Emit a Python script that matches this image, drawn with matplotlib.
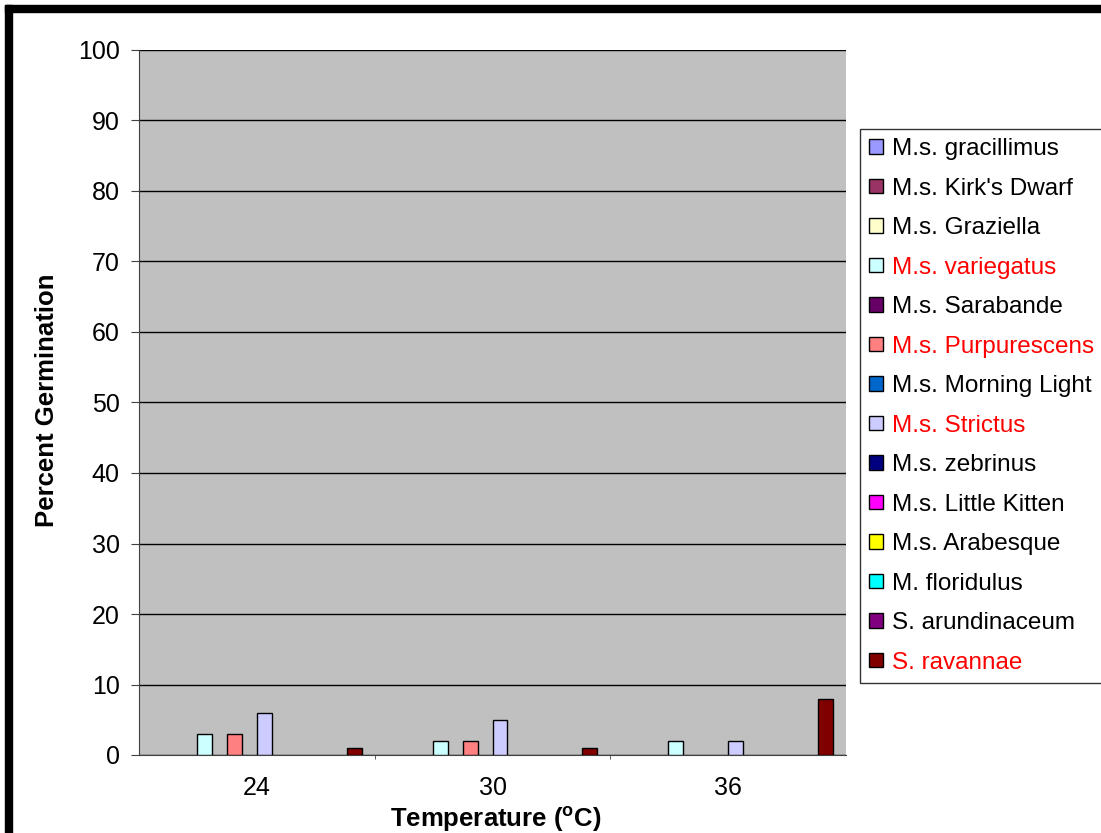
import numpy as np
import matplotlib
matplotlib.use("Agg")
import matplotlib.pyplot as plt
from matplotlib.patches import Patch, Rectangle

plt.rcParams['font.family'] = ['Liberation Sans', 'DejaVu Sans']

temps = ['24', '30', '36']
species = ['M.s. gracillimus', "M.s. Kirk's Dwarf", 'M.s. Graziella', 'M.s. variegatus',
           'M.s. Sarabande', 'M.s. Purpurescens', 'M.s. Morning Light', 'M.s. Strictus',
           'M.s. zebrinus', 'M.s. Little Kitten', 'M.s. Arabesque', 'M. floridulus',
           'S. arundinaceum', 'S. ravannae']
gracillimus = [0, 0, 0]
kirks_dwarf = [0, 0, 0]
graziella = [0, 0, 0]
variegatus = [3, 2, 2]
sarabande = [0, 0, 0]
purpurescens = [3, 2, 0]
morning_light = [0, 0, 0]
strictus = [6, 5, 2]
zebrinus = [0, 0, 0]
little_kitten = [0, 0, 0]
arabesque = [0, 0, 0]
floridulus = [0, 0, 0]
arundinaceum = [0, 0, 0]
ravannae = [1, 1, 8]
values = [gracillimus, kirks_dwarf, graziella, variegatus, sarabande, purpurescens,
          morning_light, strictus, zebrinus, little_kitten, arabesque, floridulus,
          arundinaceum, ravannae]
colors = ['#9999FF', '#993366', '#FFFFCC', '#CCFFFF', '#660066', '#FF8080', '#0066CC',
          '#CCCCFF', '#000080', '#FF00FF', '#FFFF00', '#00FFFF', '#800080', '#800000']
red_labels = ['M.s. variegatus', 'M.s. Purpurescens', 'M.s. Strictus', 'S. ravannae']

W, H = 1101, 833
fig = plt.figure(figsize=(W / 100, H / 100), dpi=100)
ax = fig.add_axes([139 / W, 1 - 755 / H, (846 - 139) / W, (755 - 50) / H])
ax.set_facecolor('#C0C0C0')

x = np.arange(len(temps))
bw = 15 / 236
for i, (vals, c) in enumerate(zip(values, colors)):
    v = np.array(vals, dtype=float)
    keep = v > 0
    ax.bar(x[keep] + (i - 6.5) * bw, v[keep], width=bw, color=c, edgecolor='black', linewidth=1, zorder=3)

ax.set_xlim(-0.5, 2.5)
ax.set_ylim(0, 100)
ax.set_yticks(np.arange(0, 101, 10))
ax.yaxis.grid(True, color='black', linewidth=1, zorder=1)
ax.set_axisbelow(True)
ax.tick_params(axis='y', labelsize=18, length=6, color='#404040', pad=8)
ax.set_xticks(x)
ax.set_xticklabels(temps)
ax.set_xticks([0.5, 1.5], minor=True)
ax.tick_params(axis='x', which='major', length=0, labelsize=18, pad=15)
ax.tick_params(axis='x', which='minor', length=3, color='#404040')
for s in ['top', 'right']:
    ax.spines[s].set_visible(False)
for s in ['left', 'bottom']:
    ax.spines[s].set_color('#404040')

fig.text(47 / W, 1 - 400 / H, 'Percent Germination', rotation=90, ha='center', va='center',
         fontsize=18.5, fontweight='bold')
fig.text(496 / W, 1 - 819 / H, r'Temperature ($\mathregular{^o}$C)', ha='center', va='center',
         fontsize=18.5, fontweight='bold')

handles = [Patch(facecolor=c, edgecolor='black', linewidth=1) for c in colors]
leg = fig.legend(handles, species, loc='upper left', bbox_to_anchor=(860 / W, 1 - 129 / H),
                 frameon=True, fancybox=False, edgecolor='black', fontsize=17.5,
                 handlelength=0.55, handleheight=0.55, handletextpad=0.4, labelspacing=0.72,
                 borderpad=0.38, borderaxespad=0)
leg.get_frame().set_linewidth(1)
for t in leg.get_texts():
    if t.get_text() in red_labels:
        t.set_color('#FF0000')

# black frame on top and left edges
fig.patches.append(Rectangle((5 / W, 0), 7 / W, 1 - 5 / H, transform=fig.transFigure,
                             color='black', zorder=10))
fig.patches.append(Rectangle((5 / W, 1 - 12 / H), 1, 7 / H, transform=fig.transFigure,
                             color='black', zorder=10))

fig.savefig('out.png', dpi=100)
